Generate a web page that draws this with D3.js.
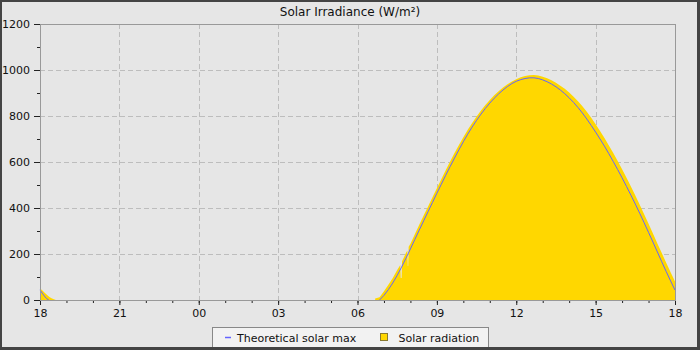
<!DOCTYPE html>
<html>
<head>
<meta charset="utf-8">
<script src="https://cdn.jsdelivr.net/npm/d3@7"></script>
<style>
  html, body { margin: 0; padding: 0; background: #e6e6e6; }
  svg { display: block; font-family: "DejaVu Sans", sans-serif; }
</style>
</head>
<body>
<svg id="chart" width="700" height="350"></svg>
<script>
// ---- Data ----
const chartTitle = "Solar Irradiance (W/m²)";
const seriesNames = ["Theoretical solar max", "Solar radiation"];
const yTickValues = [0, 200, 400, 600, 800, 1000, 1200];
const xTickHours = ["18", "21", "00", "03", "06", "09", "12", "15", "18"];

// Theoretical solar max: evening of day 1
const maxEveningTimes  = ["18:00", "18:05", "18:10", "18:15", "18:20"];
const maxEveningValues = [44, 30, 17, 6, 0];
// Theoretical solar max: daytime of day 2
const maxDayTimes = ["06:50","07:00","07:10","07:20","07:30","07:40","07:50","08:00","08:10","08:20","08:30","08:40","08:50",
  "09:00","09:10","09:20","09:30","09:40","09:50","10:00","10:10","10:20","10:30","10:40","10:50",
  "11:00","11:10","11:20","11:30","11:40","11:50","12:00","12:10","12:20","12:30","12:40","12:50",
  "13:00","13:10","13:20","13:30","13:40","13:50","14:00","14:10","14:20","14:30","14:40","14:50",
  "15:00","15:10","15:20","15:30","15:40","15:50","16:00","16:10","16:20","16:30","16:40","16:50",
  "17:00","17:10","17:20","17:30","17:40","17:50","18:00"];
const maxDayValues = [0,20,45,74,107,143,182,222,263,304,344,384,424,
  464,503,542,580,617,653,688,721,752,781,808,833,
  856,877,896,913,928,941,951,958,963,966,966,963,
  957,949,939,927,913,897,879,859,837,813,787,759,
  730,700,669,636,602,567,531,494,456,417,377,336,
  294,252,209,166,124,83,43];

// Solar radiation: evening of day 1
const radEveningTimes  = ["18:00","18:05","18:10","18:15","18:20","18:25","18:30","18:36"];
const radEveningValues = [50, 42, 33, 24, 15, 9, 4, 0];
// Solar radiation: daytime of day 2
const radDayTimes = ["06:40","06:50","07:00","07:10","07:20","07:30","07:37","07:38","07:40","07:41","07:50","07:53","07:54","07:55","07:56",
  "08:00","08:10","08:20","08:30","08:40","08:50","09:00","09:10","09:20","09:30","09:40","09:50",
  "10:00","10:10","10:20","10:30","10:40","10:50","11:00","11:10","11:20","11:30","11:40","11:50",
  "12:00","12:10","12:20","12:30","12:40","12:50","13:00","13:10","13:20","13:30","13:40","13:50",
  "14:00","14:10","14:20","14:30","14:40","14:50","15:00","15:10","15:20","15:30","15:40","15:50",
  "16:00","16:10","16:20","16:30","16:40","16:50","17:00","17:10","17:20","17:30","17:40","17:50","18:00"];
const radDayValues = [6,12,38,66,96,130,152,96,96,168,205,215,148,148,232,
  245,286,327,367,407,447,486,525,564,602,639,674,
  708,740,770,798,824,848,870,890,908,924,938,950,
  960,968,974,977,978,976,971,964,955,945,932,918,
  902,884,864,842,818,792,764,735,704,672,639,604,
  568,531,493,454,414,373,331,289,246,204,162,121,80];

// ---- Helpers ----
function toDate(hhmm, day) {
  const [h, m] = hhmm.split(":").map(Number);
  return new Date(2024, 0, day, h, m);
}
function build(times, values, day) {
  return times.map((t, i) => ({ t: toDate(t, day), v: values[i] }));
}
const maxEvening = build(maxEveningTimes, maxEveningValues, 1);
const maxDay = build(maxDayTimes, maxDayValues, 2);
const radEvening = build(radEveningTimes, radEveningValues, 1);
const radDay = build(radDayTimes, radDayValues, 2);

// ---- Layout ----
const W = 700, H = 350;
const plot = { left: 40, right: 675, top: 24, bottom: 300 };
const svg = d3.select("#chart");

svg.append("rect").attr("x", 0).attr("y", 0).attr("width", W).attr("height", H).attr("fill", "#e6e6e6");

const x = d3.scaleTime()
  .domain([new Date(2024, 0, 1, 18, 0), new Date(2024, 0, 2, 18, 0)])
  .range([plot.left, plot.right]);
const y = d3.scaleLinear().domain([0, 1200]).range([plot.bottom, plot.top]);

// Title
svg.append("text").attr("x", 350).attr("y", 16).attr("text-anchor", "middle")
  .attr("font-size", 12).attr("fill", "#111").text(chartTitle);

// Grid
const grid = svg.append("g").attr("stroke", "#bdbdbd").attr("stroke-dasharray", "5,3").attr("stroke-width", 1);
grid.selectAll("line.h").data(yTickValues.filter(v => v > 0 && v < 1200)).enter().append("line")
  .attr("x1", plot.left).attr("x2", plot.right)
  .attr("y1", d => Math.round(y(d)) + 0.5).attr("y2", d => Math.round(y(d)) + 0.5);
const majorTimes = x.ticks(d3.timeHour.every(3));
grid.selectAll("line.v").data(majorTimes.slice(1, -1)).enter().append("line")
  .attr("y1", plot.top).attr("y2", plot.bottom)
  .attr("x1", d => Math.round(x(d)) + 0.5).attr("x2", d => Math.round(x(d)) + 0.5);

// Solar radiation areas
const area = d3.area().x(d => x(d.t)).y0(y(0)).y1(d => y(d.v)).curve(d3.curveLinear);
[radEvening, radDay].forEach(seg => {
  svg.append("path").datum(seg).attr("d", area).attr("fill", "#ffd700").attr("stroke", "none");
});

// Theoretical max lines
const line = d3.line().x(d => x(d.t)).y(d => y(d.v)).curve(d3.curveLinear);
[maxEvening, maxDay].forEach(seg => {
  svg.append("path").datum(seg).attr("d", line).attr("fill", "none")
    .attr("stroke", "#6464ff").attr("stroke-width", 1);
});

// Axes
const axisColor = "#222";
const xMinor = d3.axisBottom(x).ticks(d3.timeHour.every(1)).tickSize(3).tickFormat("");
const xMajor = d3.axisBottom(x).ticks(d3.timeHour.every(3)).tickSize(5).tickPadding(4)
  .tickFormat((d, i) => xTickHours[i]);
const gxm = svg.append("g").attr("transform", `translate(0,${plot.bottom})`).call(xMinor);
const gx = svg.append("g").attr("transform", `translate(0,${plot.bottom})`).call(xMajor);

const yMinorVals = d3.range(0, 1201, 100);
const yMinor = d3.axisLeft(y).tickValues(yMinorVals).tickSize(3).tickFormat("");
const yMajor = d3.axisLeft(y).tickValues(yTickValues).tickSize(6).tickPadding(4).tickFormat(d3.format("d"));
const gym = svg.append("g").attr("transform", `translate(${plot.left},0)`).call(yMinor);
const gy = svg.append("g").attr("transform", `translate(${plot.left},0)`).call(yMajor);

[gxm, gx, gym, gy].forEach(g => {
  g.select(".domain").remove();
  g.selectAll(".tick line").attr("stroke", axisColor);
  g.selectAll(".tick text").attr("fill", "#111").attr("font-size", 11).attr("font-family", "DejaVu Sans, sans-serif");
});

// Plot border
svg.append("rect").attr("x", plot.left + 0.5).attr("y", plot.top + 0.5)
  .attr("width", plot.right - plot.left).attr("height", plot.bottom - plot.top)
  .attr("fill", "none").attr("stroke", "#999").attr("stroke-width", 1);

// Legend
const lg = svg.append("g");
lg.append("rect").attr("x", 212.5).attr("y", 327.5).attr("width", 276).attr("height", 24)
  .attr("fill", "#f2f2f2").attr("stroke", "#888");
lg.append("line").attr("x1", 225).attr("x2", 231).attr("y1", 337.5).attr("y2", 337.5)
  .attr("stroke", "#6464ff").attr("stroke-width", 1.5);
lg.append("text").attr("x", 237).attr("y", 341.5).attr("font-size", 11).attr("fill", "#111").text(seriesNames[0]);
lg.append("rect").attr("x", 380.5).attr("y", 333.5).attr("width", 7).attr("height", 7)
  .attr("fill", "#ffd700").attr("stroke", "#8a7a30");
lg.append("text").attr("x", 398.5).attr("y", 341.5).attr("font-size", 11).attr("fill", "#111").text(seriesNames[1]);

// Outer frame
svg.append("rect").attr("x", 1).attr("y", 1).attr("width", W - 2.5).attr("height", H - 2.5)
  .attr("fill", "none").attr("stroke", "#444").attr("stroke-width", 2);
svg.append("rect").attr("x", 697).attr("y", 0).attr("width", 3).attr("height", H).attr("fill", "#444");
svg.append("rect").attr("x", 0).attr("y", 347).attr("width", W).attr("height", 3).attr("fill", "#444");
</script>
</body>
</html>
